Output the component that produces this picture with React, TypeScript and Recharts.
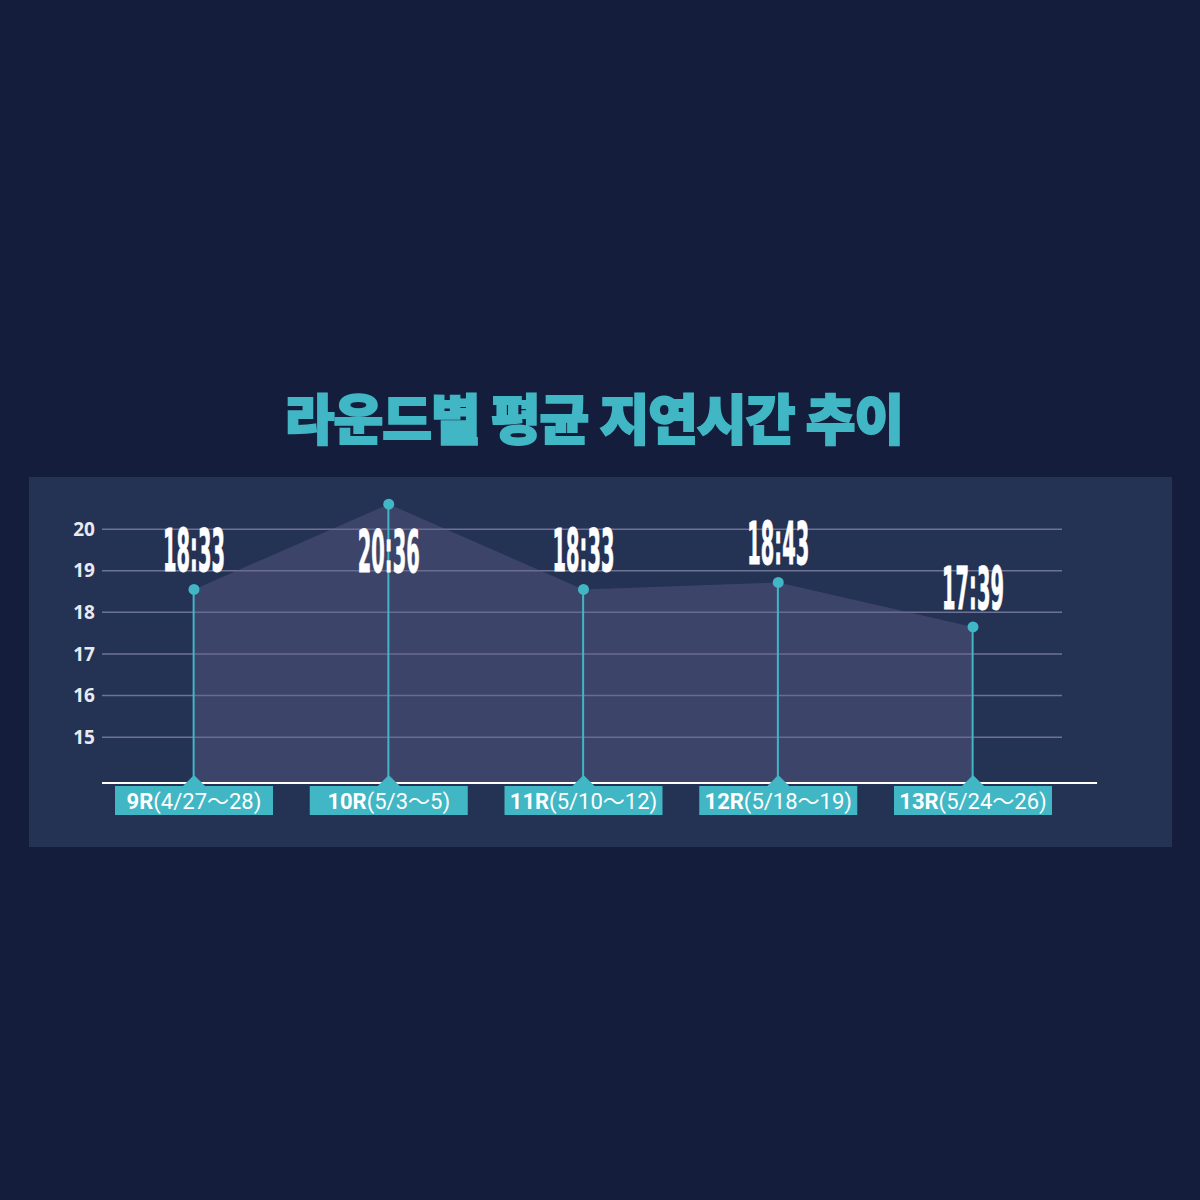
import React from 'react';
import { ComposedChart, Area, Bar, Line, XAxis, YAxis, CartesianGrid, ReferenceLine, LabelList } from 'recharts';

const rounds = ['9R', '10R', '11R', '12R', '13R'];
const periods = ['(4/27～28)', '(5/3～5)', '(5/10～12)', '(5/18～19)', '(5/24～26)'];
const delayLabels = ['18:33', '20:36', '18:33', '18:43', '17:39'];
const delayHours = [18.55, 20.6, 18.55, 18.72, 17.65];
const yTicks = [15, 16, 17, 18, 19, 20];
const xTicks = [0, 1, 2, 3, 4];

const data = rounds.map((round, i) => ({
  idx: i,
  round,
  period: periods[i],
  label: delayLabels[i],
  value: delayHours[i],
}));

const TEAL = '#41b6c4';
const X_DOMAIN: [number, number] = [-0.4724, 4.457];
const Y_DOMAIN: [number, number] = [13.9, 20.7];

const RoundTick = (props: any) => {
  const { x, y, payload } = props;
  const d = data[payload.value];
  if (!d) return null;
  return (
    <g>
      <polygon points={`${x - 11},${y + 3} ${x},${y - 8} ${x + 11},${y + 3}`} fill={TEAL} />
      <rect x={x - 79} y={y + 3} width={158} height={29} fill={TEAL} />
      <text
        x={x}
        y={y + 26}
        textAnchor="middle"
        fill="#ffffff"
        fontSize={22}
        fontFamily="Roboto, 'Noto Sans CJK KR', sans-serif"
      >
        <tspan fontWeight={700}>{d.round}</tspan>
        <tspan fontWeight={400}>{d.period}</tspan>
      </text>
    </g>
  );
};

const TimeLabel = (props: any) => {
  const { x, y, index, value } = props;
  // the highest point sits above the top gridline, so its label goes below the marker
  const baseY = value > yTicks[yTicks.length - 1] ? y + 68 : y - 18;
  return (
    <g transform={`translate(${x},${baseY}) scale(0.54,1.45)`}>
      <text
        x={0}
        y={0}
        textAnchor="middle"
        fill="#ffffff"
        stroke="#ffffff"
        strokeWidth={0.6}
        fontSize={40}
        fontWeight={700}
        fontFamily="'Liberation Sans Narrow', 'DejaVu Sans Condensed', 'Liberation Sans', sans-serif"
      >
        {data[index].label}
      </text>
    </g>
  );
};

export default function App() {
  return (
    <div style={{ position: 'relative', width: 1200, height: 1200, background: '#141e3c', overflow: 'hidden' }}>
      <style>{`body { margin: 0; }`}</style>
      <div
        style={{
          position: 'absolute',
          left: 29,
          top: 477,
          width: 1143,
          height: 370,
          background: '#243254',
        }}
      />
      <div
        style={{
          position: 'absolute',
          left: 0,
          top: 390,
          width: 1188,
          textAlign: 'center',
          color: TEAL,
          fontSize: 54,
          lineHeight: 1,
          fontWeight: 900,
          fontFamily: "'Noto Sans CJK KR', sans-serif",
          letterSpacing: -1,
          WebkitTextStroke: `2px ${TEAL}`,
        }}
      >
        라운드별 평균 지연시간 추이
      </div>
      <div style={{ position: 'absolute', left: 0, top: 0 }}>
        <ComposedChart
          width={1200}
          height={1200}
          data={data}
          margin={{ top: 500, right: 138, bottom: 377, left: 62 }}
        >
          <CartesianGrid
            horizontal
            vertical={false}
            horizontalValues={yTicks}
            stroke="#6e7394"
            strokeWidth={1.5}
          />
          <XAxis
            type="number"
            dataKey="idx"
            domain={X_DOMAIN}
            allowDataOverflow
            ticks={xTicks}
            interval={0}
            height={40}
            axisLine={false}
            tickLine={false}
            tickSize={0}
            tickMargin={0}
            tick={<RoundTick />}
          />
          <YAxis
            type="number"
            domain={Y_DOMAIN}
            allowDataOverflow
            ticks={yTicks}
            interval={0}
            width={40}
            axisLine={false}
            tickLine={false}
            tickSize={0}
            tickMargin={7}
            tick={{ fill: '#e8eaf2', fontSize: 19, fontWeight: 700, fontFamily: "'Noto Sans', sans-serif" }}
          />
          <Area
            type="linear"
            dataKey="value"
            fill="#64608c"
            fillOpacity={0.4}
            stroke="none"
            isAnimationActive={false}
          />
          <Bar dataKey="value" barSize={2} fill={TEAL} isAnimationActive={false} />
          <Line
            type="linear"
            dataKey="value"
            stroke="none"
            dot={{ r: 5.5, fill: TEAL, stroke: 'none', clipDot: false }}
            activeDot={false}
            isAnimationActive={false}
          >
            <LabelList dataKey="value" content={<TimeLabel />} />
          </Line>
          <ReferenceLine
            segment={[
              { x: X_DOMAIN[0], y: Y_DOMAIN[0] },
              { x: 4.637, y: Y_DOMAIN[0] },
            ]}
            stroke="#ffffff"
            strokeWidth={2}
            ifOverflow="visible"
          />
        </ComposedChart>
      </div>
    </div>
  );
}
